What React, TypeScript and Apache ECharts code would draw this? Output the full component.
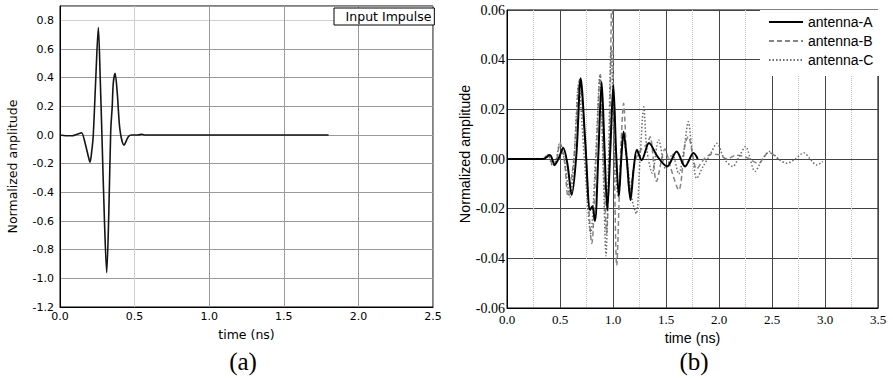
import React, { useEffect, useRef } from "react";
import * as echarts from "echarts";

// ---- Panel (a): input impulse ----
const impulseTime = [0, 0.04, 0.08, 0.11, 0.134, 0.145, 0.168, 0.19, 0.201, 0.212, 0.223, 0.24, 0.257, 0.27, 0.281, 0.298, 0.313, 0.327, 0.34, 0.35, 0.357, 0.369, 0.384, 0.402, 0.429, 0.458, 0.48, 0.52, 0.55, 0.57, 1.8];
const impulseAmp = [0, -0.005, -0.005, 0.004, 0.012, 0.016, -0.056, -0.15, -0.19, -0.12, 0, 0.4, 0.75, 0.38, 0, -0.6, -0.96, -0.55, 0.03, 0.2, 0.36, 0.43, 0.29, 0.035, -0.07, -0.012, 0, 0, 0.005, 0, 0];

// ---- Panel (b): antenna responses ----
const timeA = [0, 0.34, 0.405, 0.45, 0.49, 0.53, 0.57, 0.61, 0.655, 0.695, 0.74, 0.783, 0.805, 0.83, 0.86, 0.893, 0.92, 0.946, 0.975, 1.003, 1.03, 1.055, 1.078, 1.1, 1.13, 1.165, 1.195, 1.225, 1.27, 1.34, 1.42, 1.51, 1.6, 1.68, 1.76, 1.8];
const ampA = [0, 0, 0.0016, -0.0024, 0.0005, 0.0045, -0.002, -0.0145, 0.002, 0.0325, 0.006, -0.0205, -0.019, -0.025, 0.0, 0.031, 0.004, -0.0205, 0.004, 0.0298, 0.002, -0.015, 0.0, 0.011, 0.0, -0.0165, -0.004, 0.0037, -0.0005, 0.0064, 0.001, -0.003, 0.003, -0.003, 0.0024, 0];

const timeB = [0, 0.33, 0.39, 0.435, 0.47, 0.5, 0.54, 0.575, 0.63, 0.685, 0.745, 0.8, 0.84, 0.88, 0.91, 0.94, 0.965, 0.99, 1.012, 1.035, 1.07, 1.1, 1.13, 1.16, 1.2, 1.25, 1.32, 1.35, 1.41, 1.49, 1.54, 1.62, 1.68, 1.71, 1.79, 1.86, 1.93, 2.0, 2.08, 2.16, 2.25, 2.37, 2.47, 2.56];
const ampB = [0, 0, 0.0016, -0.003, 0.0, 0.0065, 0.0, -0.015, 0.0, 0.032, 0.0, -0.034, 0.0, 0.034, 0.0, -0.03, 0.0, 0.068, 0.0, -0.043, 0.0, 0.0224, 0.0, -0.014, -0.002, 0.003, 0.006, 0.009, -0.009, 0.004, -0.003, -0.0125, 0.006, 0.009, -0.004, 0.0, 0.002, 0.0017, 0.0, 0.0015, 0.0008, -0.0017, 0.0027, 0];

const timeC = [0, 0.33, 0.385, 0.43, 0.465, 0.495, 0.54, 0.594, 0.632, 0.675, 0.73, 0.79, 0.835, 0.877, 0.905, 0.934, 0.958, 0.982, 1.015, 1.05, 1.07, 1.09, 1.13, 1.18, 1.22, 1.255, 1.29, 1.32, 1.37, 1.43, 1.5, 1.56, 1.62, 1.67, 1.71, 1.75, 1.79, 1.85, 1.92, 1.98, 2.05, 2.13, 2.19, 2.25, 2.34, 2.41, 2.48, 2.56, 2.64, 2.72, 2.8, 2.86, 2.92, 2.98];
const ampC = [0, 0, 0.0018, -0.0028, 0.0, 0.006, 0.0, -0.0155, 0.0, 0.03, 0.0, -0.03, 0.0, 0.0338, 0.0, -0.039, 0.0, 0.045, 0.0, -0.015, -0.003, 0.01, 0.0, -0.0165, -0.022, 0.0, 0.021, 0.0036, -0.0057, 0.0077, -0.0044, 0.002, -0.006, 0.004, 0.015, 0.002, -0.0078, -0.003, 0.002, 0.0063, 0.0, -0.003, 0.001, 0.005, -0.005, 0.0, 0.003, 0.0, -0.0017, 0.0, 0.0025, 0.0, -0.0024, -0.001];

const seriesNamesB = ["antenna-A", "antenna-B", "antenna-C"];

const pairs = (t: number[], v: number[]) => t.map((x, i) => [x, v[i]]);
const fmt = (d: number) => (v: number) => (Math.abs(v) < 1e-9 ? 0 : v).toFixed(d);

export default function App() {
  const ref = useRef<HTMLDivElement>(null);
  useEffect(() => {
    document.body.style.margin = "0";
    const chart = echarts.init(ref.current!, null, { renderer: "svg" });
    const sansA = "DejaVu Sans";
    const sansB = "Liberation Sans";
    const serifB = "Liberation Serif";
    const gA = "#9a9a9a";
    const gALight = "#cfcfcf";
    chart.setOption({
      animation: false,
      backgroundColor: "#fff",
      grid: [
        { left: 60, top: 6, width: 373, height: 301, show: true, borderColor: "#000", borderWidth: 1 },
        { left: 507, top: 10, width: 371, height: 298, show: true, borderColor: "#000", borderWidth: 1 },
      ],
      xAxis: [
        {
          gridIndex: 0, type: "value", min: 0, max: 2.5, interval: 0.5,
          axisLine: { show: true, onZero: false, lineStyle: { color: "#000", width: 1 } },
          axisTick: { show: false },
          axisLabel: { formatter: fmt(1), fontFamily: sansA, fontSize: 11, color: "#000", margin: 4 },
          splitLine: { show: true, lineStyle: { color: [gA, gALight, gA, gA, gA, gA], width: 1 } },
          name: "time (ns)", nameLocation: "middle", nameGap: 21,
          nameTextStyle: { fontFamily: sansA, fontSize: 12.5, color: "#000" },
        },
        {
          gridIndex: 1, type: "value", min: 0, max: 3.5, interval: 0.5,
          axisLine: { show: true, onZero: false, lineStyle: { color: "#000", width: 1 } },
          axisTick: { show: false },
          axisLabel: { formatter: fmt(1), fontFamily: serifB, fontSize: 13, color: "#000", margin: 5 },
          splitLine: { show: true, lineStyle: { color: "#444", width: 1 } },
          minorTick: { show: false, splitNumber: 2 },
          minorSplitLine: { show: true, lineStyle: { color: "#c4c4c4", type: "dotted", width: 1 } },
          name: "time (ns)", nameLocation: "middle", nameGap: 21,
          nameTextStyle: { fontFamily: sansB, fontSize: 14.3, color: "#000" },
        },
      ],
      yAxis: [
        {
          gridIndex: 0, type: "value", min: -1.2, max: 0.9, interval: 0.2,
          axisLine: { show: true, onZero: false, lineStyle: { color: "#000", width: 1 } },
          axisTick: { show: false },
          axisLabel: { formatter: fmt(1), fontFamily: sansA, fontSize: 11, color: "#000", margin: 6, showMaxLabel: false },
          splitLine: { show: true, lineStyle: { color: [gA, gA, gA, gA, gA, gA, gA, gA, gA, gA, gALight, gA], width: 1 } },
          name: "Normalized anplitude", nameLocation: "middle", nameGap: 41,
          nameTextStyle: { fontFamily: sansA, fontSize: 12.5, color: "#000", padding: [0, 20, 0, 0] },
        },
        {
          gridIndex: 1, type: "value", min: -0.06, max: 0.06, interval: 0.02,
          axisLine: { show: true, onZero: false, lineStyle: { color: "#000", width: 1 } },
          axisTick: { show: false },
          axisLabel: { formatter: fmt(2), fontFamily: serifB, fontSize: 14, color: "#000", margin: 2 },
          splitLine: { show: true, lineStyle: { color: "#444", width: 1 } },
          name: "Normalized amplitude", nameLocation: "middle", nameGap: 31,
          nameTextStyle: { fontFamily: sansB, fontSize: 14.3, color: "#000", padding: [0, 0, 0, 10] },
        },
      ],
      legend: [
        {
          data: ["Input Impulse"], left: 334, top: 8, itemWidth: 0, itemHeight: 14,
          padding: [2, 3, 2, 1], borderColor: "#000", borderWidth: 1, backgroundColor: "#fff",
          selectedMode: false, lineStyle: { opacity: 0 }, itemStyle: { opacity: 0 },
          textStyle: { fontFamily: sansA, fontSize: 12.5, color: "#000" },
        },
        {
          data: seriesNamesB, orient: "vertical", left: 760, top: 10, itemWidth: 34, itemHeight: 14, itemGap: 5,
          padding: [5, 6, 9, 8], backgroundColor: "#fff", selectedMode: false,
          itemStyle: { opacity: 0 },
          textStyle: { fontFamily: sansB, fontSize: 14, color: "#000", lineHeight: 14 },
        },
      ],
      series: [
        {
          name: "Input Impulse", type: "line", xAxisIndex: 0, yAxisIndex: 0,
          data: pairs(impulseTime, impulseAmp), symbol: "none", smooth: 0.3,
          lineStyle: { color: "#151515", width: 1.6 }, itemStyle: { color: "#151515" },
        },
        {
          name: seriesNamesB[1], type: "line", xAxisIndex: 1, yAxisIndex: 1, z: 2,
          data: pairs(timeB, ampB), symbol: "none", smooth: 0.3,
          lineStyle: { color: "#858585", width: 1.5, type: [5, 3] }, itemStyle: { color: "#858585" },
        },
        {
          name: seriesNamesB[2], type: "line", xAxisIndex: 1, yAxisIndex: 1, z: 2,
          data: pairs(timeC, ampC), symbol: "none", smooth: 0.3,
          lineStyle: { color: "#6a6a6a", width: 1.5, type: [1.5, 2] }, itemStyle: { color: "#6a6a6a" },
        },
        {
          name: seriesNamesB[0], type: "line", xAxisIndex: 1, yAxisIndex: 1, z: 3,
          data: pairs(timeA, ampA), symbol: "none", smooth: 0.3,
          lineStyle: { color: "#000", width: 2 }, itemStyle: { color: "#000" },
        },
      ],
      graphic: [
        { type: "text", x: 243, y: 361, style: { text: "(a)", fontFamily: "Liberation Serif", fontSize: 25, fill: "#000", align: "center", verticalAlign: "middle" } },
        { type: "text", x: 694, y: 361, style: { text: "(b)", fontFamily: "Liberation Serif", fontSize: 25, fill: "#000", align: "center", verticalAlign: "middle" } },
      ],
    });
    return () => chart.dispose();
  }, []);
  return <div ref={ref} style={{ width: 893, height: 379 }} />;
}
